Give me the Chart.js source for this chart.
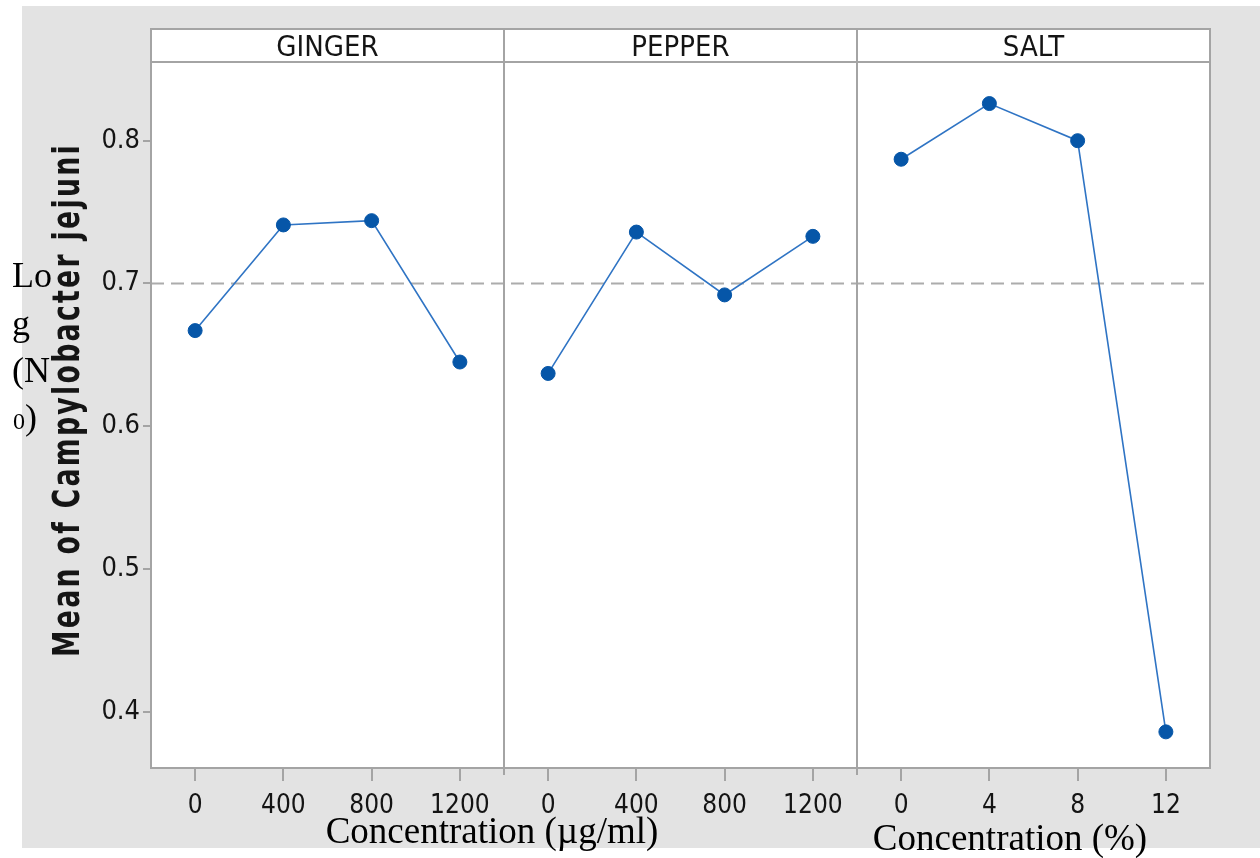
<!DOCTYPE html>
<html>
<head>
<meta charset="utf-8">
<script src="https://cdn.jsdelivr.net/npm/chart.js@4.4.1/dist/chart.umd.min.js"></script>
<style>
  html, body { margin: 0; padding: 0; background: #fff; overflow: hidden; }
  #wrap { position: relative; width: 1260px; height: 858px; }
</style>
</head>
<body>
<div id="wrap"><canvas id="c" width="1260" height="858"></canvas></div>
<script>
// Main-effects data: mean log count per treatment level
const panels = ['GINGER', 'PEPPER', 'SALT'];
const gingerConc = ['0', '400', '800', '1200'];
const pepperConc = ['0', '400', '800', '1200'];
const saltConc = ['0', '4', '8', '12'];
const gingerMean = [0.667, 0.741, 0.744, 0.645];
const pepperMean = [0.637, 0.736, 0.692, 0.733];
const saltMean = [0.787, 0.826, 0.800, 0.386];
const grandMean = 0.7;
const yTicks = [0.4, 0.5, 0.6, 0.7, 0.8];
const yTitle = 'Mean of Campylobacter jejuni';
const sideNoteLines = ['Lo', 'g', '(N'];
const sideNoteSub = '0';
const sideNoteEnd = ')';
const xTitleLeft = 'Concentration (µg/ml)';
const xTitleRight = 'Concentration (%)';

const NARROW = "'Liberation Sans Narrow', 'Arial Narrow', 'DejaVu Sans Condensed', sans-serif";
const SERIF = "'Liberation Serif', 'Times New Roman', serif";
const TEXT = '#141414';
const FRAME = '#a4a4a4';

const levelLabels = [...gingerConc, ...pepperConc, ...saltConc];
const seriesByPanel = [gingerMean, pepperMean, saltMean];

const datasets = seriesByPanel.map((vals, p) => ({
  label: panels[p],
  data: vals.map((v, i) => ({ x: p * 4 + i, y: v })),
  borderColor: '#2f74c4',
  borderWidth: 1.6,
  pointBackgroundColor: '#0656a8',
  pointBorderColor: '#0656a8',
  pointBorderWidth: 1,
  pointRadius: 7,
  tension: 0,
  fill: false
}));

const framePlugin = {
  id: 'frame',
  beforeDraw(chart) {
    const { ctx, chartArea: a } = chart;
    const top = chart.scales.top.top;
    ctx.save();
    ctx.fillStyle = '#ffffff';
    ctx.fillRect(0, 0, chart.width, chart.height);
    ctx.fillStyle = '#e3e3e3';
    ctx.fillRect(22, 6, chart.width - 22, 842);
    ctx.fillStyle = '#ffffff';
    ctx.fillRect(a.left, top, a.right - a.left, a.bottom - top);
    ctx.restore();
  },
  beforeDatasetsDraw(chart) {
    const { ctx, chartArea: a, scales } = chart;
    const top = scales.top.top;
    const yRef = scales.y.getPixelForValue(grandMean);
    ctx.save();
    // reference line at the overall mean
    ctx.strokeStyle = '#acacac';
    ctx.lineWidth = 2;
    ctx.setLineDash([13, 7]);
    ctx.beginPath();
    ctx.moveTo(a.left, yRef);
    ctx.lineTo(a.right, yRef);
    ctx.stroke();
    ctx.setLineDash([]);
    // panel frame, header strip and dividers
    ctx.strokeStyle = FRAME;
    ctx.lineWidth = 2;
    ctx.strokeRect(a.left, top, a.right - a.left, a.bottom - top);
    ctx.beginPath();
    ctx.moveTo(a.left, a.top);
    ctx.lineTo(a.right, a.top);
    [3.5, 7.5].forEach(v => {
      const xp = scales.x.getPixelForValue(v);
      ctx.moveTo(xp, top);
      ctx.lineTo(xp, a.bottom + 7);
    });
    ctx.stroke();
    ctx.restore();
  },
  afterDraw(chart) {
    const { ctx, chartArea: a } = chart;
    // y-axis title: bold, spaced and narrowed to span the plotted range
    ctx.save();
    ctx.font = `bold 38px ${NARROW}`;
    ctx.letterSpacing = '3px';
    const titleLen = 514;
    const sx = titleLen / ctx.measureText(yTitle).width;
    ctx.translate(69, (a.top + a.bottom) / 2 - 15);
    ctx.rotate(-Math.PI / 2);
    ctx.scale(sx, 1);
    ctx.fillStyle = '#151515';
    ctx.textAlign = 'center';
    ctx.textBaseline = 'middle';
    ctx.fillText(yTitle, 0, 0);
    ctx.restore();

    ctx.save();
    ctx.fillStyle = '#000';
    ctx.textBaseline = 'alphabetic';
    ctx.textAlign = 'center';
    ctx.font = `37px ${SERIF}`;
    ctx.fillText(xTitleLeft, 492, 843);
    ctx.fillText(xTitleRight, 1010, 850);

    ctx.textAlign = 'left';
    ctx.font = `36px ${SERIF}`;
    const baselines = [287, 335, 382];
    sideNoteLines.forEach((t, i) => ctx.fillText(t, 12, baselines[i]));
    ctx.font = `24px ${SERIF}`;
    ctx.fillText(sideNoteSub, 13, 429);
    const subW = ctx.measureText(sideNoteSub).width;
    ctx.font = `36px ${SERIF}`;
    ctx.fillText(sideNoteEnd, 13 + subW, 429);
    ctx.restore();
  }
};

new Chart(document.getElementById('c').getContext('2d'), {
  type: 'line',
  data: { datasets },
  options: {
    responsive: false,
    animation: false,
    devicePixelRatio: 1,
    layout: { padding: { left: 0, right: 50, top: 29, bottom: 0 } },
    plugins: { legend: { display: false }, tooltip: { enabled: false } },
    scales: {
      x: {
        type: 'linear',
        position: 'bottom',
        min: -0.5,
        max: 11.5,
        afterBuildTicks: s => { s.ticks = levelLabels.map((_, i) => ({ value: i })); },
        afterFit: s => { s.height = 90; },
        grid: { drawOnChartArea: false, drawTicks: true, tickLength: 13, color: FRAME, lineWidth: 2 },
        border: { display: false },
        ticks: {
          callback: v => levelLabels[v],
          font: { size: 26, family: NARROW, lineHeight: 1 },
          color: TEXT,
          padding: 12,
          maxRotation: 0,
          autoSkip: false
        }
      },
      top: {
        type: 'linear',
        position: 'top',
        min: -0.5,
        max: 11.5,
        afterBuildTicks: s => { s.ticks = panels.map((_, p) => ({ value: p * 4 + 1.5 })); },
        afterFit: s => { s.height = 33; },
        grid: { display: false, drawTicks: false },
        border: { display: false },
        ticks: {
          callback: (v, i) => panels[i],
          font: { size: 29, family: NARROW, lineHeight: 1 },
          color: TEXT,
          padding: -1,
          maxRotation: 0,
          autoSkip: false
        }
      },
      y: {
        min: 0.3607,
        max: 0.8551,
        afterBuildTicks: s => { s.ticks = yTicks.map(v => ({ value: v })); },
        afterFit: s => { s.width = 151; },
        grid: { drawOnChartArea: false, drawTicks: true, tickLength: 8, color: FRAME, lineWidth: 2 },
        border: { display: false },
        ticks: {
          callback: v => v.toFixed(1),
          font: { size: 27, family: NARROW, lineHeight: 1 },
          color: TEXT,
          padding: 3
        }
      }
    }
  },
  plugins: [framePlugin]
});
</script>
</body>
</html>
